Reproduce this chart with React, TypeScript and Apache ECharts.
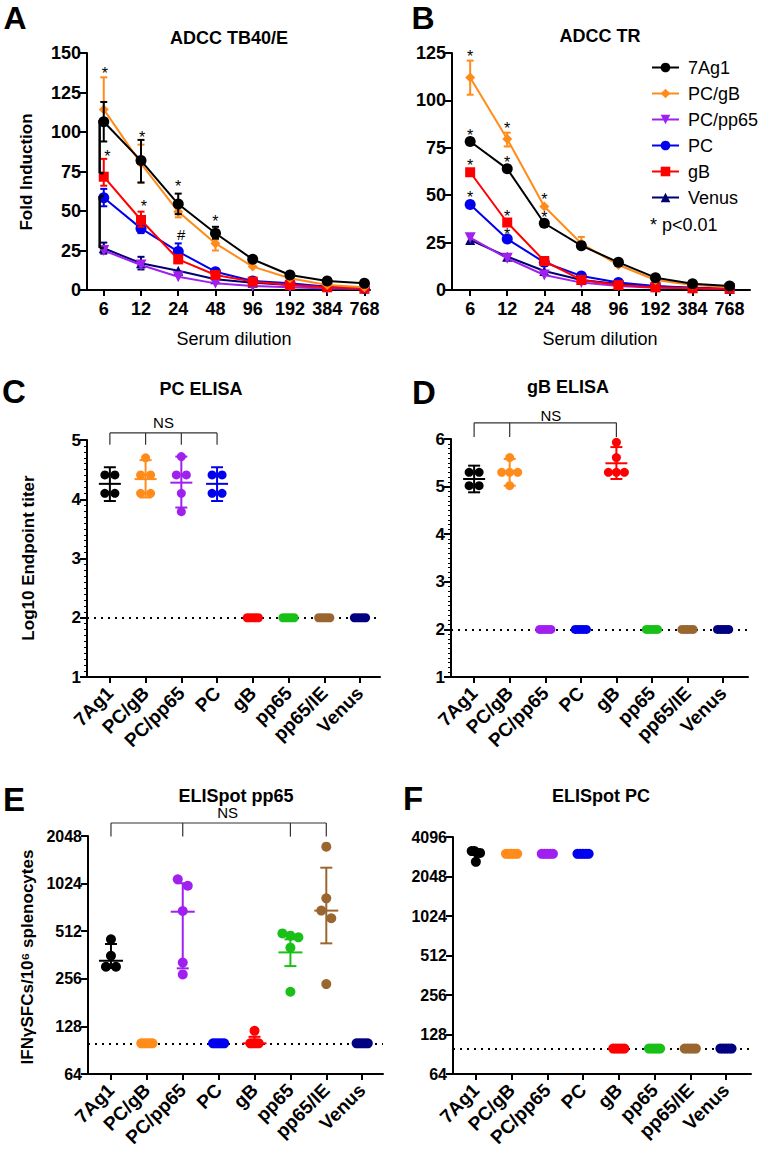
import React, { useEffect, useRef } from "react";
import * as echarts from "echarts";

const FONT = "'Liberation Sans', Arial, Helvetica, sans-serif";

// ---------- Panels A & B : ADCC (fold induction vs serum dilution)
const dilutions = ["6", "12", "24", "48", "96", "192", "384", "768"];
const lineGroups = ["7Ag1", "PC/gB", "PC/pp65", "PC", "gB", "Venus"];

const tb40_7Ag1 = [106.5, 81.9, 54.4, 35.9, 19.4, 9.5, 5.7, 4.2];
const tb40_PCgB = [114.3, 80.0, 49.6, 29.5, 14.8, 7.4, 3.2, 1.7];
const tb40_PCpp65 = [25.0, 15.8, 8.4, 4.2, 2.5, 1.7, 1.0, 0.8];
const tb40_PC = [58.4, 39.0, 24.3, 11.6, 5.7, 4.2, 2.1, 1.0];
const tb40_gB = [71.7, 44.3, 19.4, 9.5, 5.3, 3.2, 1.7, 1.0];
const tb40_Venus = [26.4, 16.9, 12.2, 6.8, 4.6, 3.2, 2.1, 1.0];

// error bars [dilution index, low, high]
const tb40Err_7Ag1 = [[0, 94, 119], [1, 68, 95], [2, 48, 61], [3, 32.5, 40]];
const tb40Err_PCgB = [[0, 114.3, 134.6], [1, 68, 92], [2, 46, 50], [3, 25, 32]];
const tb40Err_PCpp65: number[][] = [];
const tb40Err_PC = [[0, 53, 64], [1, 36, 42], [2, 20, 29.5]];
const tb40Err_gB = [[0, 66, 83], [1, 40, 49.6], [2, 17, 22]];
const tb40Err_Venus = [[0, 23, 30], [1, 13, 21]];

// comparison brackets at dilution 6 [upper, lower]
const tb40Brackets = [[107.6, 74], [59.5, 26.6]];
// significance marks [dilution index, value, text]
const tb40Marks: [number, number, string][] = [
  [0.03, 139, "*"], [1.03, 99, "*"], [2.0, 68, "*"], [3.0, 45.5, "*"],
  [0.1, 86.7, "*"], [1.08, 55, "*"], [2.08, 35, "#"],
];

const tr_7Ag1 = [78.3, 63.9, 35.2, 23.4, 14.6, 6.5, 3.3, 2.1];
const tr_PCgB = [112.1, 79.6, 44.0, 24.5, 13.2, 5.3, 2.6, 1.4];
const tr_PCpp65 = [27.6, 16.7, 7.9, 3.9, 2.1, 1.2, 0.9, 0.7];
const tr_PC = [45.1, 26.9, 14.6, 7.4, 3.9, 2.1, 1.2, 0.7];
const tr_gB = [62.1, 35.6, 15.3, 5.3, 2.6, 1.4, 0.9, 0.7];
const tr_Venus = [26.4, 17.6, 10.0, 5.3, 3.2, 1.8, 1.1, 0.7];
const trErr_PCgB = [[0, 103, 121], [1, 75.7, 83], [3, 22, 28]];
const trMarks: [number, number, string][] = [
  [0, 125, "*"], [0, 83.3, "*"], [0, 67.5, "*"], [0, 50.6, "*"],
  [1, 87, "*"], [1, 69, "*"], [1, 40.6, "*"], [1, 31.1, "*"],
  [2, 49.5, "*"], [2, 40, "*"],
];

// ---------- Panels C-F : per-mouse values
const groups = ["7Ag1", "PC/gB", "PC/pp65", "PC", "gB", "pp65", "pp65/IE", "Venus"];

const pcElisa = [
  [4.41, 4.41, 4.10, 4.10],
  [4.70, 4.41, 4.41, 4.10, 4.10],
  [4.72, 4.41, 4.41, 4.10, 3.79],
  [4.41, 4.41, 4.10, 4.10],
  [2, 2, 2, 2, 2],
  [2, 2, 2, 2, 2],
  [2, 2, 2, 2, 2],
  [2, 2, 2, 2, 2],
];
const pcElisaMeanSD = [[0, 4.26, 3.97, 4.54], [1, 4.34, 4.03, 4.66], [2, 4.28, 3.86, 4.72], [3, 4.26, 3.97, 4.54]];

const gbElisa = [
  [5.30, 5.30, 5.02, 5.02],
  [5.61, 5.30, 5.30, 5.30, 5.02],
  [2, 2, 2, 2, 2],
  [2, 2, 2, 2, 2],
  [5.93, 5.61, 5.30, 5.30, 5.30],
  [2, 2, 2, 2, 2],
  [2, 2, 2, 2, 2],
  [2, 2, 2, 2, 2],
];
const gbElisaMeanSD = [[0, 5.16, 4.88, 5.44], [1, 5.30, 5.02, 5.58], [4, 5.49, 5.16, 5.83]];

const spotPP65 = [
  [455, 358, 305, 305],
  [100, 100, 100, 100, 100],
  [1090, 993, 687, 324, 273],
  [100, 100, 100, 100, 100],
  [120, 100, 100, 100, 100],
  [496, 480, 468, 403, 212],
  [1753, 826, 691, 618, 237],
  [100, 100, 100, 100, 100],
];
const spotPP65MeanSD = [[0, 333, 300, 425], [2, 680, 298, 1030], [4, 100, 100, 110], [5, 376, 308, 455], [6, 691, 429, 1291]];

const spotPC = [
  [3200, 3200, 3100, 3100, 2650],
  [3050, 3050, 3050, 3050, 3050],
  [3050, 3050, 3050, 3050, 3050],
  [3050, 3050, 3050, 3050, 3050],
  [100, 100, 100, 100, 100],
  [100, 100, 100, 100, 100],
  [100, 100, 100, 100, 100],
  [100, 100, 100, 100, 100],
];

const groupColors = ["#000000", "#FF8C1A", "#A020F0", "#0000EE", "#FF0000", "#18C018", "#9A6630", "#000080"];
const lineColors: Record<string, string> = {
  "7Ag1": "#000000", "PC/gB": "#FF8C1A", "PC/pp65": "#A020F0", PC: "#0000EE", gB: "#FF0000", Venus: "#000070",
};
const lineSymbols: Record<string, string> = {
  "7Ag1": "circle", "PC/gB": "diamond", "PC/pp65": "path://M0,0L10,0L5,9Z", PC: "circle", gB: "rect", Venus: "triangle",
};
const lineSymbolSize: Record<string, number> = {
  "7Ag1": 11, "PC/gB": 10, "PC/pp65": 11, PC: 11, gB: 10, Venus: 10,
};

// ---------- layout
type Cfg = { left: number; top: number; width: number; height: number; xmin: number; xmax: number };
const L: Cfg[] = [
  { left: 87, top: 53, width: 283, height: 237, xmin: -0.45, xmax: 7.15 },
  { left: 452, top: 53, width: 298, height: 237, xmin: -0.49, xmax: 7.55 },
  { left: 87, top: 440, width: 293, height: 237, xmin: -0.64, xmax: 7.56 },
  { left: 451, top: 439, width: 297, height: 238, xmin: -0.65, xmax: 7.7 },
  { left: 88, top: 836, width: 295, height: 238, xmin: -0.64, xmax: 7.58 },
  { left: 453, top: 837, width: 298, height: 237, xmin: -0.64, xmax: 7.7 },
];
const pxPerX = (c: Cfg) => c.width / (c.xmax - c.xmin);

function spread(values: number[], cat: number, c: Cfg, yPx: (v: number) => number) {
  const sorted = [...values].sort((a, b) => b - a);
  const rows: number[][] = [];
  for (const v of sorted) {
    const last = rows[rows.length - 1];
    if (last && Math.abs(yPx(last[0]) - yPx(v)) < 8) last.push(v);
    else rows.push([v]);
  }
  const out: number[][] = [];
  const k = pxPerX(c);
  for (const row of rows) {
    const n = row.length;
    const step = n <= 2 ? 10 : n === 3 ? 8 : 2.8;
    row.forEach((v, i) => out.push([cat + ((i - (n - 1) / 2) * step) / k, v]));
  }
  return out;
}

const seg = (x1: number, y1: number, x2: number, y2: number, color: string, w = 2) => ({
  type: "line",
  shape: { x1, y1, x2, y2 },
  style: { stroke: color, lineWidth: w },
});

const AXC = "#000";

function xAxisFor(i: number, labels: string[], rotate: boolean) {
  const c = L[i];
  const vals = labels.map((_, j) => j);
  return {
    gridIndex: i,
    type: "value",
    min: c.xmin,
    max: c.xmax,
    splitLine: { show: false },
    axisLine: { show: true, onZero: false, lineStyle: { color: AXC, width: 2 } },
    axisTick: { show: true, customValues: vals, length: 6, lineStyle: { color: AXC, width: 2 } },
    axisLabel: {
      show: true,
      customValues: vals,
      formatter: (v: number) => labels[Math.round(v)] ?? "",
      rotate: rotate ? 45 : 0,
      margin: rotate ? 13 : 10,
      fontSize: rotate ? 19 : 18,
      fontWeight: "bold",
      fontFamily: FONT,
      color: "#000",
    },
  };
}

function yAxisFor(i: number, extra: any, fontSize: number) {
  return {
    gridIndex: i,
    splitLine: { show: false },
    axisLine: { show: true, onZero: false, lineStyle: { color: AXC, width: 2 } },
    axisTick: { show: true, length: 7, lineStyle: { color: AXC, width: 2 } },
    axisLabel: {
      margin: 6,
      fontSize,
      fontWeight: "bold",
      fontFamily: FONT,
      color: "#000",
      formatter: (v: number) => String(Math.round(v)),
    },
    ...extra,
  };
}

function lineSeries(idx: number, name: string, vals: number[], z: number) {
  return {
    type: "line",
    name,
    xAxisIndex: idx,
    yAxisIndex: idx,
    data: vals.map((v, i) => [i, v]),
    symbol: lineSymbols[name],
    symbolSize: lineSymbolSize[name],
    showSymbol: true,
    color: lineColors[name],
    itemStyle: { color: lineColors[name] },
    lineStyle: { color: lineColors[name], width: 2 },
    z,
    silent: true,
  };
}

function errSeries(idx: number, color: string, data: number[][], z: number) {
  return {
    type: "custom",
    xAxisIndex: idx,
    yAxisIndex: idx,
    data,
    z,
    silent: true,
    renderItem: (_p: any, api: any) => {
      const x = api.value(0);
      const lo = api.coord([x, api.value(1)]);
      const hi = api.coord([x, api.value(2)]);
      const cw = 3.5;
      return {
        type: "group",
        children: [
          seg(lo[0], lo[1], hi[0], hi[1], color),
          seg(hi[0] - cw, hi[1], hi[0] + cw, hi[1], color),
          seg(lo[0] - cw, lo[1], lo[0] + cw, lo[1], color),
        ],
      };
    },
  };
}

function marksSeries(idx: number, marks: [number, number, string][]) {
  return {
    type: "custom",
    xAxisIndex: idx,
    yAxisIndex: idx,
    data: marks.map((m) => [m[0], m[1]]),
    z: 10,
    silent: true,
    renderItem: (p: any, api: any) => {
      const pt = api.coord([api.value(0), api.value(1)]);
      const t = marks[p.dataIndex][2];
      return {
        type: "text",
        x: pt[0],
        y: pt[1] + (t === "*" ? 3.5 : 0),
        style: {
          text: t, fontSize: t === "*" ? 16 : 15, fontFamily: FONT, fill: "#000",
          align: "center", verticalAlign: "middle", textAlign: "center", textVerticalAlign: "middle",
        },
      };
    },
  };
}

function bracketA(idx: number) {
  return {
    type: "custom",
    xAxisIndex: idx,
    yAxisIndex: idx,
    data: tb40Brackets,
    z: 9,
    silent: true,
    renderItem: (_p: any, api: any) => {
      const top = api.coord([-0.11, api.value(0)]);
      const bot = api.coord([-0.11, api.value(1)]);
      const stub = 4;
      return {
        type: "group",
        children: [
          seg(top[0], top[1], bot[0], bot[1], "#000", 2.5),
          seg(top[0], top[1], top[0] + stub, top[1], "#000", 2.5),
          seg(bot[0], bot[1], bot[0] + stub, bot[1], "#000", 2.5),
        ],
      };
    },
  };
}

function nsBracket(idx: number, ticks: number[], top: number, bottom: number, labelX: number, labelY: number) {
  return {
    type: "custom",
    xAxisIndex: idx,
    yAxisIndex: idx,
    data: [[ticks[0], top]],
    z: 9,
    silent: true,
    clip: false,
    renderItem: (_p: any, api: any) => {
      const children: any[] = [];
      const a = api.coord([ticks[0], top]);
      const b = api.coord([ticks[ticks.length - 1], top]);
      children.push(seg(a[0], a[1], b[0], b[1], "#333", 1.2));
      for (const t of ticks) {
        const u = api.coord([t, top]);
        const d = api.coord([t, bottom]);
        children.push(seg(u[0], u[1], d[0], d[1], "#333", 1.2));
      }
      const lp = api.coord([labelX, labelY]);
      children.push({
        type: "text",
        x: lp[0],
        y: lp[1],
        style: {
          text: "NS", fontSize: 15, fontFamily: FONT, fill: "#000",
          align: "center", verticalAlign: "middle", textAlign: "center", textVerticalAlign: "middle",
        },
      });
      return { type: "group", children };
    },
  };
}

function meanSDSeries(idx: number, data: number[][], halfMean: number) {
  return {
    type: "custom",
    xAxisIndex: idx,
    yAxisIndex: idx,
    data,
    z: 6,
    silent: true,
    renderItem: (_p: any, api: any) => {
      const cat = api.value(0);
      const color = groupColors[Math.round(cat)];
      const pm = api.coord([cat, api.value(1)]);
      const pl = api.coord([cat, api.value(2)]);
      const ph = api.coord([cat, api.value(3)]);
      const cw = 6;
      return {
        type: "group",
        children: [
          seg(pm[0] - halfMean, pm[1], pm[0] + halfMean, pm[1], color),
          seg(pl[0], pl[1], ph[0], ph[1], color),
          seg(ph[0] - cw, ph[1], ph[0] + cw, ph[1], color),
          seg(pl[0] - cw, pl[1], pl[0] + cw, pl[1], color),
        ],
      };
    },
  };
}

function scatterPanel(idx: number, pts: number[][], yPx: (v: number) => number, size: number, lod: number) {
  return pts.map((vals, g) => ({
    type: "scatter",
    xAxisIndex: idx,
    yAxisIndex: idx,
    data: spread(vals, g, L[idx], yPx),
    symbol: "circle",
    symbolSize: size,
    itemStyle: { color: groupColors[g], opacity: 1 },
    z: 4,
    silent: true,
    ...(g === 0
      ? {
          markLine: {
            silent: true,
            symbol: "none",
            z: 3,
            label: { show: false },
            lineStyle: { color: "#000", width: 2, type: [2, 5] },
            data: [{ yAxis: lod }],
          },
        }
      : {}),
  }));
}

const textEl = (text: string, x: number, y: number, fontSize: number, bold: boolean, align = "center", rotation = 0) => ({
  type: "text",
  x,
  y,
  rotation,
  style: {
    text,
    fontSize,
    fontWeight: bold ? "bold" : "normal",
    fontFamily: FONT,
    fill: "#000",
    align,
    verticalAlign: "middle",
    textAlign: align,
    textVerticalAlign: "middle",
  },
});

function buildOption() {
  const tb40 = [tb40_7Ag1, tb40_PCgB, tb40_PCpp65, tb40_PC, tb40_gB, tb40_Venus];
  const tb40Err = [tb40Err_7Ag1, tb40Err_PCgB, tb40Err_PCpp65, tb40Err_PC, tb40Err_gB, tb40Err_Venus];
  const tr = [tr_7Ag1, tr_PCgB, tr_PCpp65, tr_PC, tr_gB, tr_Venus];
  const drawOrder = [5, 2, 3, 4, 1, 0];

  const series: any[] = [];
  // A
  drawOrder.forEach((g, k) => {
    if (tb40Err[g].length) series.push(errSeries(0, lineColors[lineGroups[g]], tb40Err[g], 2 + k));
    series.push(lineSeries(0, lineGroups[g], tb40[g], 2 + k));
  });
  series.push(bracketA(0));
  series.push(marksSeries(0, tb40Marks));
  // B
  drawOrder.forEach((g, k) => {
    if (g === 1) series.push(errSeries(1, lineColors["PC/gB"], trErr_PCgB, 2 + k));
    series.push(lineSeries(1, lineGroups[g], tr[g], 2 + k));
  });
  series.push(marksSeries(1, trMarks));

  // C
  const yC = (v: number) => ((v - 1) / 4) * L[2].height;
  series.push(...scatterPanel(2, pcElisa, yC, 9, 2));
  series.push(meanSDSeries(2, pcElisaMeanSD, 11));
  series.push(nsBracket(2, [0, 1, 2, 3], 5.12, 4.92, 1.5, 5.29));
  // D
  const yD = (v: number) => ((v - 1) / 5) * L[3].height;
  series.push(...scatterPanel(3, gbElisa, yD, 9, 2));
  series.push(meanSDSeries(3, gbElisaMeanSD, 11));
  series.push(nsBracket(3, [0, 1, 4], 6.34, 6.04, 2.16, 6.5));
  // E
  const yE = (v: number) => (Math.log2(v / 64) / 5) * L[4].height;
  series.push(...scatterPanel(4, spotPP65, yE, 10, 100));
  series.push(meanSDSeries(4, spotPP65MeanSD, 12));
  series.push(nsBracket(4, [0, 2, 5, 6], 2474, 2030, 3.25, 2863));
  // F
  const yF = (v: number) => (Math.log2(v / 64) / 6) * L[5].height;
  series.push(...scatterPanel(5, spotPC, yF, 10, 100));

  return {
    animation: false,
    backgroundColor: "#ffffff",
    textStyle: { fontFamily: FONT },
    grid: L.map((c) => ({ left: c.left, top: c.top, width: c.width, height: c.height })),
    xAxis: [
      xAxisFor(0, dilutions, false),
      xAxisFor(1, dilutions, false),
      xAxisFor(2, groups, true),
      xAxisFor(3, groups, true),
      xAxisFor(4, groups, true),
      xAxisFor(5, groups, true),
    ],
    yAxis: [
      yAxisFor(0, { type: "value", min: 0, max: 150, interval: 25 }, 18),
      yAxisFor(1, { type: "value", min: 0, max: 125, interval: 25 }, 18),
      yAxisFor(2, { type: "value", min: 1, max: 5, interval: 1, minorTick: { show: true, splitNumber: 10, length: 3, lineStyle: { color: "#000", width: 1 } } }, 17),
      yAxisFor(3, { type: "value", min: 1, max: 6, interval: 1, minorTick: { show: true, splitNumber: 10, length: 3, lineStyle: { color: "#000", width: 1 } } }, 17),
      yAxisFor(4, { type: "log", logBase: 2, min: 64, max: 2048, splitNumber: 5 }, 16),
      yAxisFor(5, { type: "log", logBase: 2, min: 64, max: 4096, splitNumber: 6 }, 16),
    ],
    legend: {
      data: lineGroups,
      orient: "vertical",
      left: 646,
      top: 52,
      itemWidth: 27,
      itemHeight: 12,
      itemGap: 5,
      selectedMode: false,
      textStyle: { fontSize: 18, fontFamily: FONT, color: "#000", lineHeight: 21, padding: [0, 0, 0, 4] },
    },
    graphic: [
      textEl("A", 15, 18, 32, true),
      textEl("B", 423, 18, 32, true),
      textEl("C", 14, 391, 33, true),
      textEl("D", 424, 392, 33, true),
      textEl("E", 14, 799, 33, true),
      textEl("F", 413, 798, 33, true),
      textEl("ADCC TB40/E", 229, 38, 18, true),
      textEl("ADCC TR", 600, 36, 18, true),
      textEl("PC ELISA", 201, 389, 18, true),
      textEl("gB ELISA", 568, 387, 18, true),
      textEl("ELISpot pp65", 236, 796, 18, true),
      textEl("ELISpot PC", 601, 796, 18, true),
      textEl("Serum dilution", 234, 339, 18, false),
      textEl("Serum dilution", 600, 339, 18, false),
      textEl("Fold Induction", 26, 172, 17, true, "center", Math.PI / 2),
      textEl("Log10 Endpoint titer", 28, 558, 17, true, "center", Math.PI / 2),
      textEl("IFN\u03b3SFCs/10\u2076 splenocytes", 27, 957, 17, true, "center", Math.PI / 2),
      textEl("* p<0.01", 650, 225, 18, false, "left"),
    ],
    series,
  };
}

export default function App() {
  const ref = useRef<HTMLDivElement>(null);
  useEffect(() => {
    document.body.style.margin = "0";
    if (!ref.current) return;
    const chart = echarts.init(ref.current, undefined, { renderer: "svg" });
    chart.setOption(buildOption() as any);
    return () => chart.dispose();
  }, []);
  return <div ref={ref} style={{ width: 766, height: 1150, position: "absolute", left: 0, top: 0, background: "#fff" }} />;
}
